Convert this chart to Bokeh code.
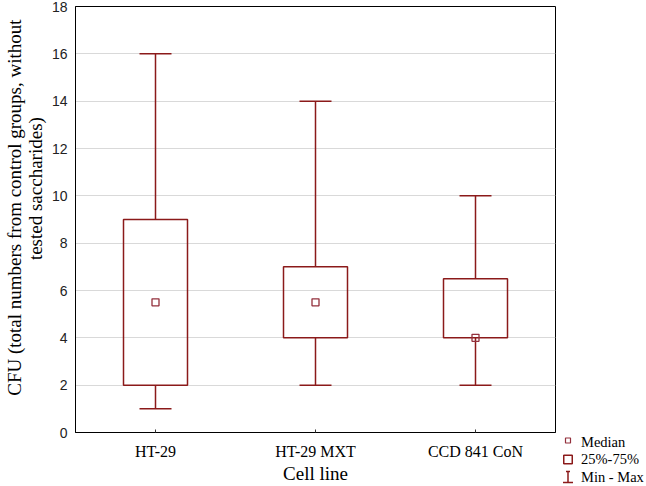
from bokeh.plotting import figure
from bokeh.layouts import row, column
from bokeh.models import (Range1d, FactorRange, ColumnDataSource, Whisker, TeeHead,
                          LinearAxis, FixedTicker, Spacer)
from bokeh.core.properties import value
from bokeh.embed import file_html
from bokeh.resources import INLINE

# ---- data ----
categories = ["HT-29", "HT-29 MXT", "CCD 841 CoN"]
minimum = [1, 2, 2]
q1 = [2, 4, 4]
median = [5.5, 5.5, 4]
q3 = [9, 7, 6.5]
maximum = [16, 14, 10]
y_ticks = [0, 2, 4, 6, 8, 10, 12, 14, 16, 18]
legend_labels = ["Median", "25%-75%", "Min - Max"]
y_label_line1 = "CFU (total numbers from control groups, without"
y_label_line2 = "tested saccharides)"
x_label = "Cell line"

DARK = "#8b1a1a"
MED = "#93303c"
SERIF = "Liberation Serif"
SANS = "Liberation Sans"
NB = "\u00a0"

TOTAL_W, TOTAL_H = 645, 486
W1 = 559
FRAME_BOTTOM = 432

src = ColumnDataSource(dict(cat=categories, mn=minimum, q1=q1, med=median, q3=q3, mx=maximum))

p = figure(width=W1, height=TOTAL_H, x_range=FactorRange(*categories), y_range=Range1d(0, 18),
           output_backend="svg", toolbar_location=None,
           min_border_left=74, min_border_right=4, min_border_top=6,
           min_border_bottom=TOTAL_H - FRAME_BOTTOM)
p.x_range.range_padding = 0
p.background_fill_color = "white"
p.border_fill_color = "white"
p.outline_line_color = "black"
p.outline_line_width = 1

p.xaxis.axis_label = x_label
p.xaxis.axis_label_text_font = SERIF
p.xaxis.axis_label_text_font_size = "19px"
p.xaxis.axis_label_text_font_style = "normal"
p.xaxis.axis_label_text_color = "black"
p.xaxis.axis_label_standoff = 0
p.xaxis.major_label_text_font = SERIF
p.xaxis.major_label_text_font_size = "16px"
p.xaxis.major_label_text_color = "black"
p.xaxis.major_label_standoff = 10
p.xaxis.major_tick_in = 3
p.xaxis.major_tick_out = 0
p.xaxis.major_tick_line_color = "#333333"
p.xaxis.axis_line_color = "black"

# inner left axis: tick labels + second line of the title
p.yaxis.ticker = FixedTicker(ticks=y_ticks)
p.yaxis.axis_label = NB * 13 + y_label_line2
p.yaxis.axis_label_text_font = SERIF
p.yaxis.axis_label_text_font_size = "19px"
p.yaxis.axis_label_text_font_style = "normal"
p.yaxis.axis_label_text_color = "black"
p.yaxis.axis_label_standoff = 3
p.yaxis.major_label_text_font = SANS
p.yaxis.major_label_text_font_size = "14px"
p.yaxis.major_label_text_color = "#222222"
p.yaxis.major_label_standoff = 8
p.yaxis.major_tick_in = 0
p.yaxis.major_tick_out = 0
p.yaxis.minor_tick_in = 0
p.yaxis.minor_tick_out = 0
p.yaxis.axis_line_color = "black"

# outer left axis: only the first line of the title
outer = LinearAxis(ticker=FixedTicker(ticks=[]), axis_line_color=None,
                   major_tick_in=0, major_tick_out=0, minor_tick_in=0, minor_tick_out=0,
                   major_label_standoff=0, axis_label=NB * 5 + y_label_line1,
                   axis_label_text_font=SERIF, axis_label_text_font_size="19px",
                   axis_label_text_font_style="normal", axis_label_text_color="black",
                   axis_label_standoff=-3)
p.add_layout(outer, "left")

p.xgrid.visible = False
p.ygrid.ticker = FixedTicker(ticks=y_ticks)
p.ygrid.grid_line_color = "#d9d9d9"
p.ygrid.grid_line_width = 1

# boxes, whiskers, medians
p.vbar(x="cat", top="q3", bottom="q1", width=0.4, source=src,
       fill_color=None, line_color=DARK, line_width=1.5)
p.add_layout(Whisker(source=src, base="cat", upper="mx", lower="q3", dimension="height",
                     line_color=DARK, line_width=1.5,
                     upper_head=TeeHead(size=32, line_color=DARK, line_width=1.5),
                     lower_head=None))
p.add_layout(Whisker(source=src, base="cat", upper="q1", lower="mn", dimension="height",
                     line_color=DARK, line_width=1.5,
                     lower_head=TeeHead(size=32, line_color=DARK, line_width=1.5),
                     upper_head=None))
p.scatter(x="cat", y="med", source=src, marker="square", size=7,
          fill_color=None, line_color=MED, line_width=1.3)

# ---- legend panel (its own small figure with pixel-like ranges) ----
LW = TOTAL_W - W1
LH = TOTAL_H - FRAME_BOTTOM
lf = figure(width=LW, height=LH, x_range=Range1d(0, LW), y_range=Range1d(LH, 0),
            output_backend="svg", toolbar_location=None,
            x_axis_location=None, y_axis_location=None,
            min_border=0, min_border_left=0, min_border_right=0,
            min_border_top=0, min_border_bottom=0)
lf.outline_line_color = None
lf.grid.visible = False
lf.background_fill_color = "white"
lf.border_fill_color = "white"

sym_x = 8.5
txt_x = 21.5
sym_y = [8, 27, 44.5]
txt_y = [9, 26.7, 44.7]
lf.scatter(x=[sym_x], y=[sym_y[0]], marker="square", size=5,
           fill_color=None, line_color=MED, line_width=1.2)
lf.scatter(x=[sym_x], y=[sym_y[1]], marker="square", size=8.5,
           fill_color=None, line_color=DARK, line_width=1.5)
lf.segment(x0=[sym_x, sym_x - 2, sym_x - 5], x1=[sym_x, sym_x + 2, sym_x + 5],
           y0=[sym_y[2] - 5.5, sym_y[2] - 5.5, sym_y[2] + 5.5],
           y1=[sym_y[2] + 5.5, sym_y[2] - 5.5, sym_y[2] + 5.5],
           line_color=DARK, line_width=1.5)
lf.text(x=[txt_x] * 3, y=txt_y, text=legend_labels, text_font=value(SERIF),
        text_font_size="14.5px", text_color="black", text_baseline="middle",
        text_align="left")

layout = row(p, column(Spacer(width=LW, height=TOTAL_H - LH), lf))
open("out.html", "w").write(file_html(layout, INLINE))
